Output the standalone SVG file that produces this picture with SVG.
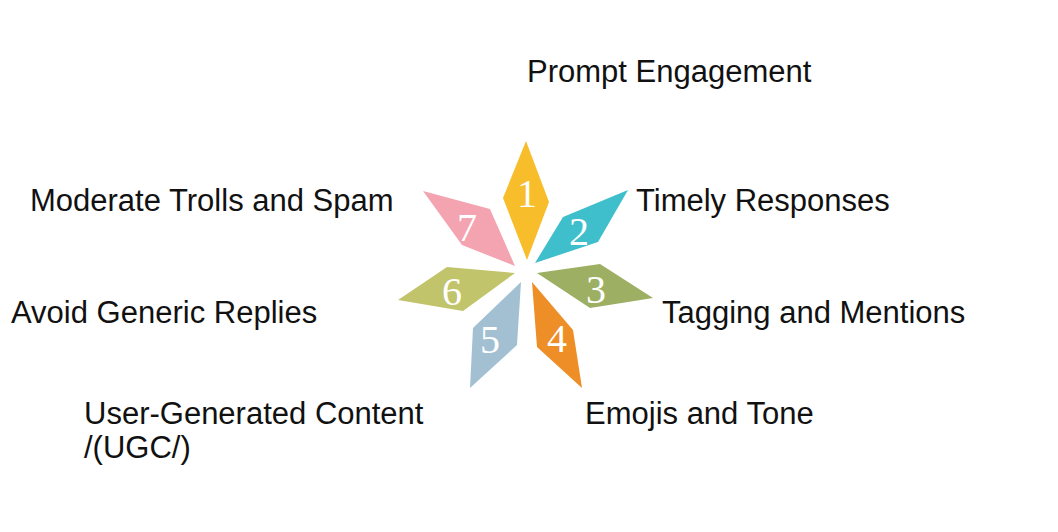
<svg xmlns="http://www.w3.org/2000/svg" width="1058" height="532" viewBox="0 0 1058 532">
<style>
.lbl{font-family:"Liberation Sans",Arial,sans-serif;font-size:31px;fill:#111}
.num{font-family:"Liberation Serif","Times New Roman",serif;font-size:40px;fill:#fff;text-anchor:middle}
</style>
<rect width="1058" height="532" fill="#fff"/>
<g id="petals">
<g id="p1"><polygon points="526,141 549,202 527,260 503,198" fill="#f7bd2a"/><text class="num" x="527" y="207">1</text></g>
<g id="p2"><polygon points="628,190 598,242 535,263 563,217" fill="#3fbfcb"/><text class="num" x="579" y="245">2</text></g>
<g id="p3"><polygon points="537,273 600,264 653,298 590,308" fill="#9caf62"/><text class="num" x="596" y="303">3</text></g>
<g id="p4"><polygon points="532,282 573,330 582,388 537,347" fill="#ee8e27"/><text class="num" x="557" y="352">4</text></g>
<g id="p5"><polygon points="521,282 517,345 470,388 473,328" fill="#a3c0d3"/><text class="num" x="490" y="353">5</text></g>
<g id="p6"><polygon points="398,300 447,267 515,273 463,311" fill="#c2c46b"/><text class="num" x="452" y="305">6</text></g>
<g id="p7"><polygon points="423,191 490,209 515,266 462,245" fill="#f3a4b0"/><text class="num" x="467" y="241">7</text></g>
</g>
<g id="labels">
<text id="t1" class="lbl" x="527" y="82">Prompt Engagement</text>
<text id="t2" class="lbl" x="636" y="211">Timely Responses</text>
<text id="t3" class="lbl" x="662" y="323">Tagging and Mentions</text>
<text id="t4" class="lbl" x="585" y="424">Emojis and Tone</text>
<text id="t5" class="lbl" x="84" y="424">User-Generated Content</text>
<text id="t5b" class="lbl" x="84" y="458">/(UGC/)</text>
<text id="t6" class="lbl" x="11" y="323">Avoid Generic Replies</text>
<text id="t7" class="lbl" x="30" y="211">Moderate Trolls and Spam</text>
</g>
<g id="connectors"/>
</svg>
